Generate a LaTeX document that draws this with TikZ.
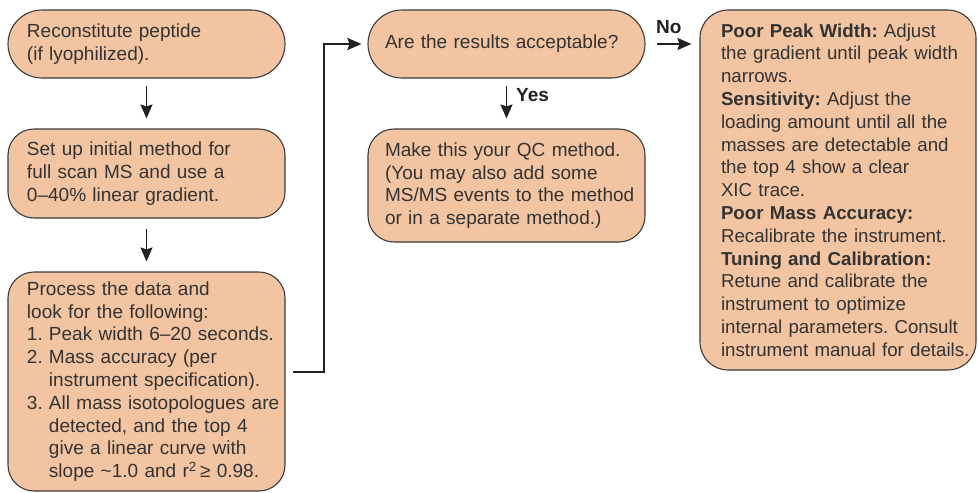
\documentclass[tikz,border=0pt]{standalone}
\usepackage{fontspec}
\setmainfont{Liberation Sans}
\usetikzlibrary{arrows.meta, positioning}
\definecolor{boxfill}{HTML}{F2C4A1}
\definecolor{boxline}{HTML}{3C3C3C}
\definecolor{txt}{HTML}{333333}
\definecolor{linecol}{HTML}{222222}
\tikzset{stepbox/.style={draw=boxline, fill=boxfill, line width=1.1pt, rounded corners=26pt, inner xsep=0pt, inner ysep=0pt, text width=269pt, minimum width=277pt, align=left, text=txt, font=\fontsize{19}{22.8}\selectfont}}
\tikzset{arr/.style={draw=linecol, line width=1.6pt, -{Stealth[length=14pt, width=12pt, inset=2pt]}, shorten <=7pt, shorten >=10pt}}
\tikzset{lbl/.style={font=\fontsize{19}{22.8}\selectfont\bfseries, text=linecol, inner sep=0pt}}
\newcommand{\lsk}[1]{\leftskip=#1pt\rightskip=-8pt plus 2em\hyphenpenalty=10000\relax}
\newcommand{\itm}[1]{\makebox[22pt][l]{#1.}}
\newcommand{\cnt}{\hspace*{22pt}}

\begin{document}
\frenchspacing
\begin{tikzpicture}[x=1pt, y=-1pt]
	\useasboundingbox (0,0) rectangle (978,493);

	\node[stepbox, rounded corners=34pt, minimum height=68pt] (recon) at (146.5,44){\lsk{15}Reconstitute peptide\\(if lyophilized).\par};
	\node[stepbox, minimum height=89pt] (setup) at (146.5,173.5){\lsk{15}Set up initial method for\\full scan MS and use a\\0–40\% linear gradient.\par};
	\node[stepbox, minimum height=219pt] (proc) at (146.5,381.5){\lsk{15}Process the data and\\
		look for the following:\\
		\itm{1}Peak width 6–20 seconds.\\
		\itm{2}Mass accuracy (per\\
		\cnt instrument specification).\\
		\itm{3}All mass isotopologues are\\
		\cnt detected, and the top 4\\
		\cnt give a linear curve with\\
		\cnt slope \textasciitilde1.0 and r\textsuperscript{2}\,≥ 0.98.\par};

	\node[stepbox, rounded corners=34pt, minimum height=68pt] (ask) at (506.5,44){\lsk{13}Are the results acceptable?\par};
	\node[stepbox, minimum height=113pt] (qc) at (506.5,185.5){\lsk{13}Make this your QC method.\\
		(You may also add some\\
		MS/MS events to the method\\
		or in a separate method.)\par};

	\node[stepbox, rounded corners=28pt, minimum width=276pt, text width=270pt, minimum height=360pt, font=\fontsize{18.7}{22.8}\selectfont] (fix) at (838,190){\lsk{18}\textbf{Poor Peak Width:} Adjust\\
		the gradient until peak width\\
		narrows.\\
		\textbf{Sensitivity:} Adjust the\\
		loading amount until all the\\
		masses are detectable and\\
		the top 4 show a clear\\
		XIC trace.\\
		\textbf{Poor Mass Accuracy:}\\
		Recalibrate the instrument.\\
		\textbf{Tuning and Calibration:}\\
		Retune and calibrate the\\
		instrument to optimize\\
		internal parameters. Consult\\
		instrument manual for details.\par};

	\draw[arr] (recon) -- (setup);
	\draw[arr, shorten <=10pt] (setup) -- (proc);
	\draw[arr, line width=2pt, shorten >=6pt] ([yshift=9.5pt]proc.east) -- ++(38,0) |- (ask.west);
	\draw[arr] (ask) -- (qc);
	\draw[arr, shorten <=11pt, shorten >=8pt] (ask.east) -- (fix.west |- ask.east);

	\node[lbl, anchor=base west] (no) at (656,33){No};
	\node[lbl, anchor=base west] (yes) at (516,101){Yes};
\end{tikzpicture}
\end{document}
